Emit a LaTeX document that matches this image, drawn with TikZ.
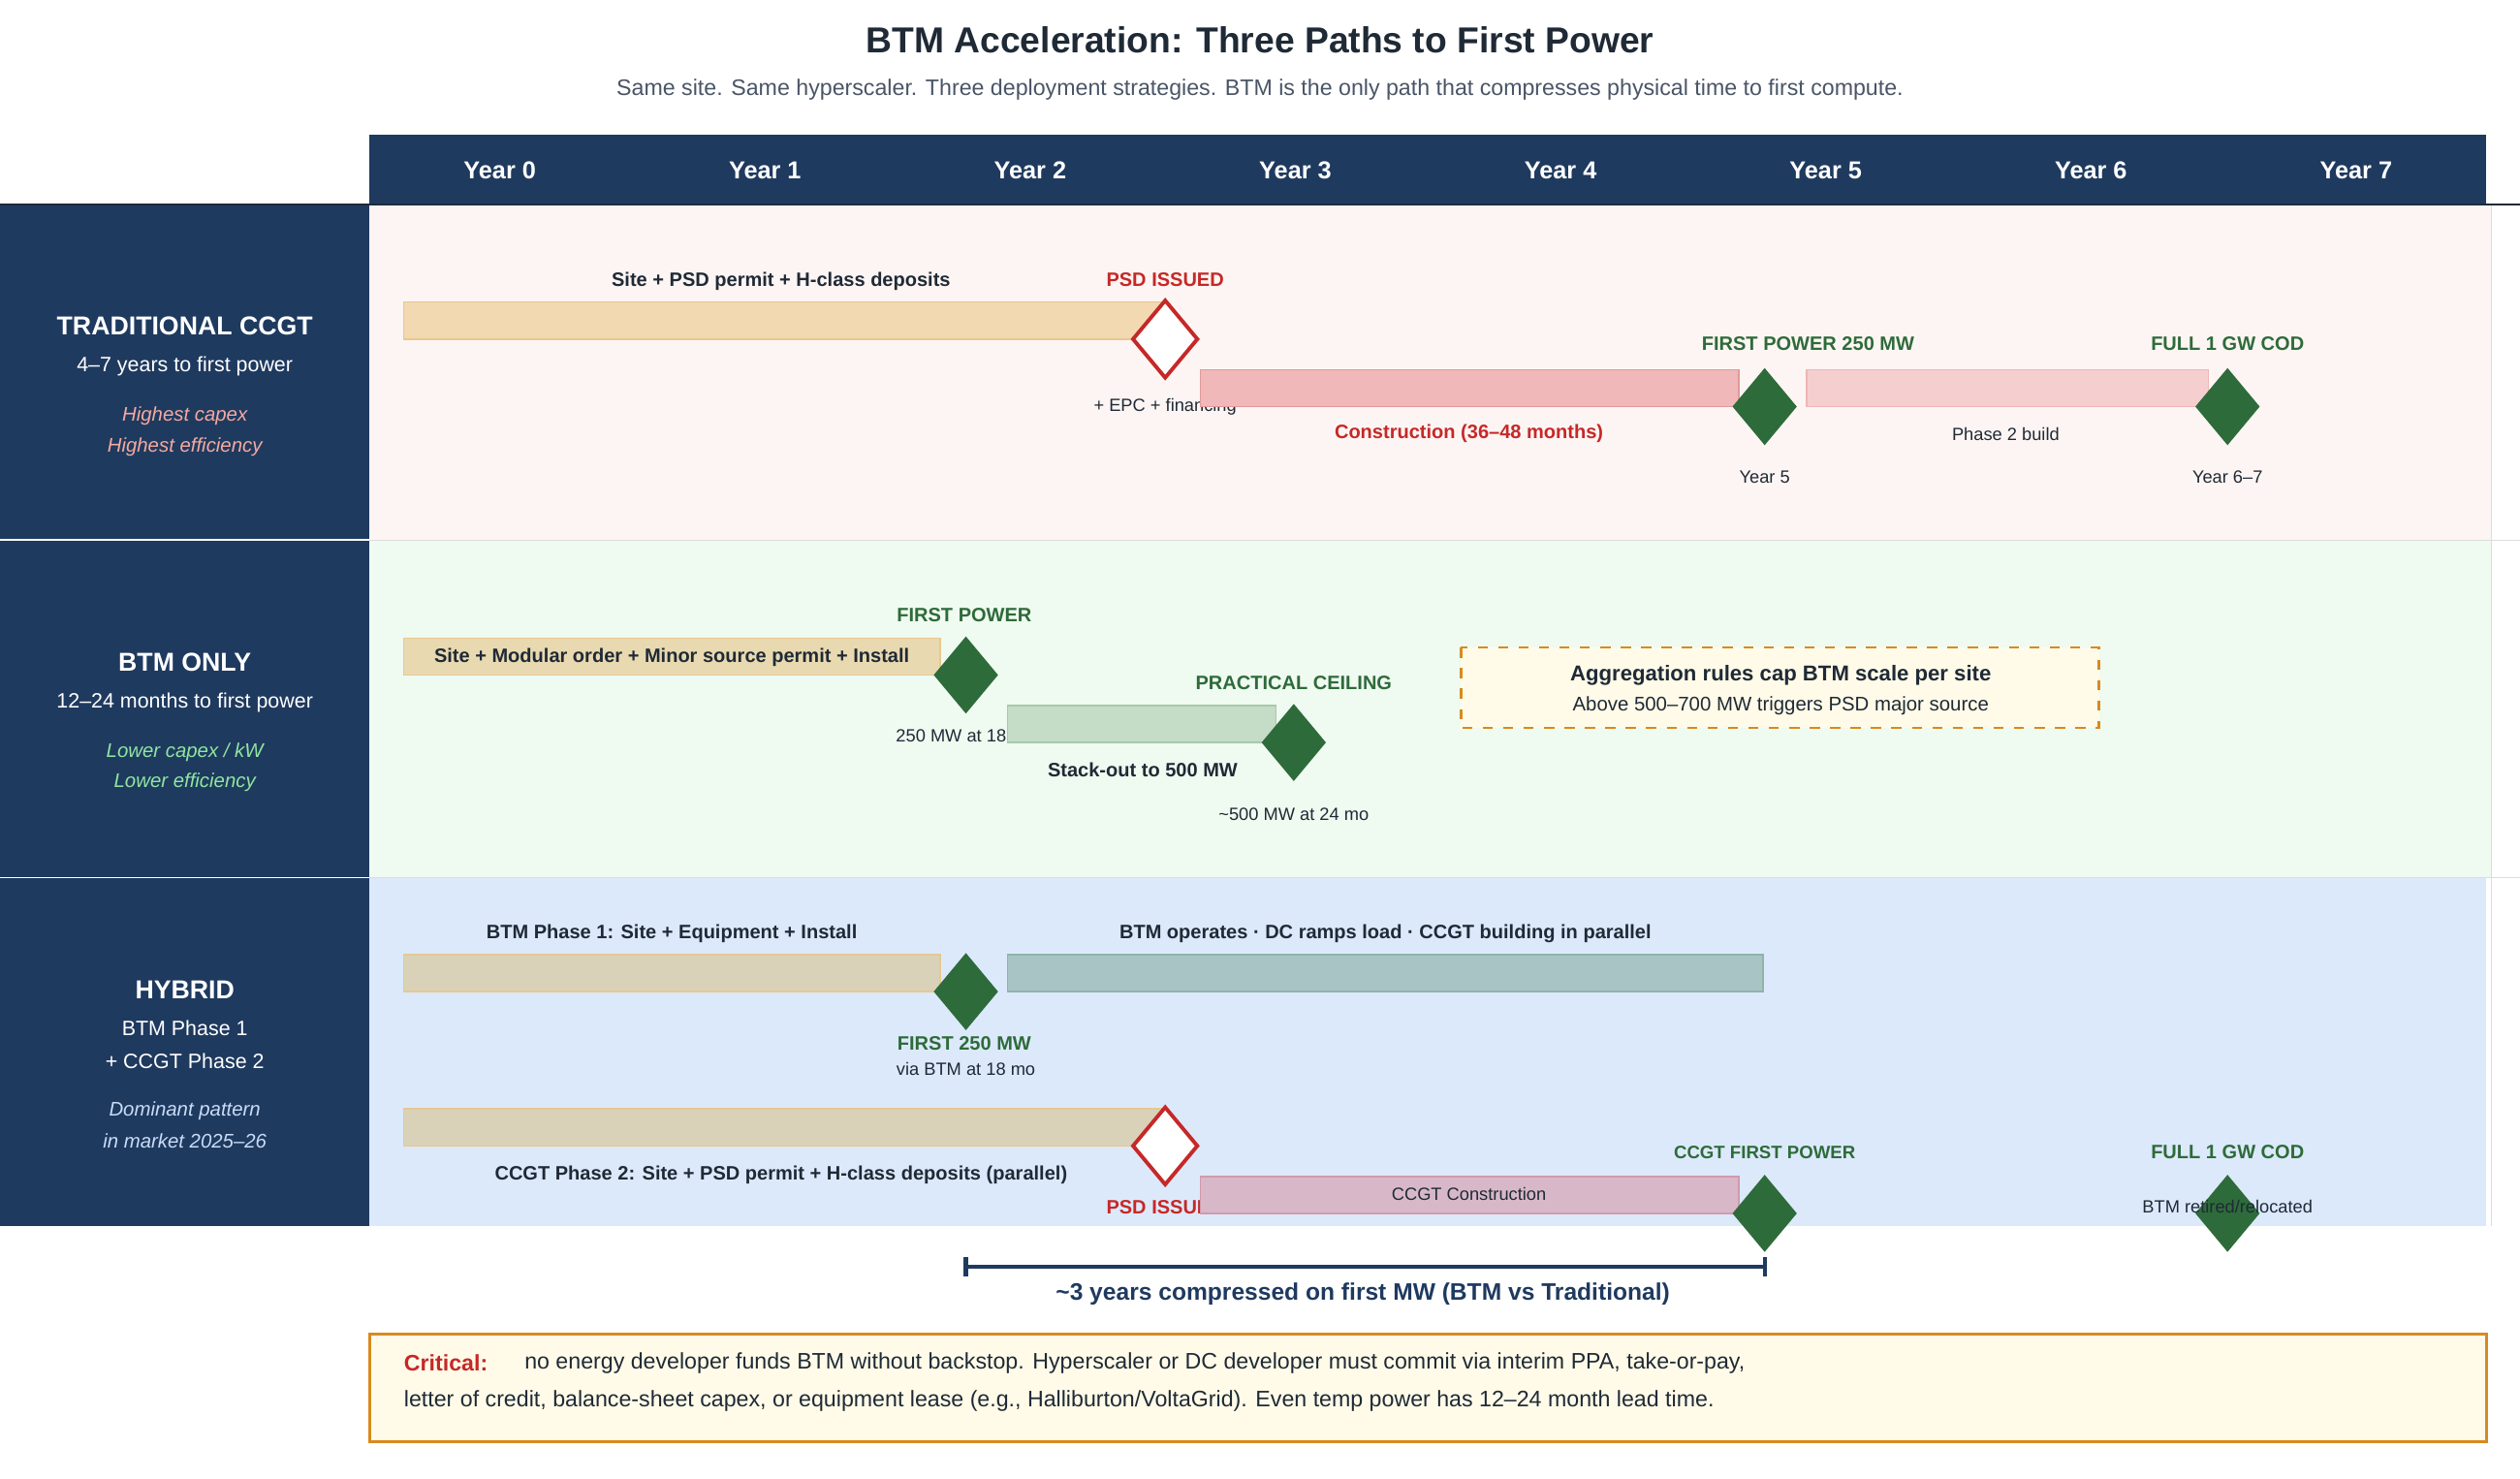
\documentclass[tikz,border=0pt]{standalone}
\usepackage{fontspec}
\setmainfont{Liberation Sans}
\usetikzlibrary{positioning}

\definecolor{navy}{HTML}{1F3A5F}
\definecolor{ink}{HTML}{1F2A36}
\definecolor{grey}{HTML}{4A5566}
\definecolor{redt}{HTML}{C62828}
\definecolor{greent}{HTML}{2E6B3A}
\definecolor{gem}{HTML}{2E6B3A}
\definecolor{orangeb}{HTML}{D88A1E}
\definecolor{cream}{HTML}{FFFBE8}
\definecolor{rowpink}{HTML}{FDF5F3}
\definecolor{rowgreen}{HTML}{EFFAF0}
\definecolor{rowblue}{HTML}{DCE9FB}
\definecolor{sep}{HTML}{DDDDDD}
\definecolor{itpink}{HTML}{F4A9A0}
\definecolor{itgreen}{HTML}{8EE6A0}
\definecolor{itblue}{HTML}{C8DCF8}
\definecolor{tan}{HTML}{F2D9B2}
\definecolor{tanline}{HTML}{E8C890}
\definecolor{tanb}{HTML}{E9D9B0}
\definecolor{tanc}{HTML}{D9D2B8}
\definecolor{redbar}{HTML}{F0B8B8}
\definecolor{redbarline}{HTML}{E09A9A}
\definecolor{pinkbar}{HTML}{F5CFCF}
\definecolor{pinkbarline}{HTML}{EDB5B5}
\definecolor{sage}{HTML}{C5DCC7}
\definecolor{sageline}{HTML}{A8C8AC}
\definecolor{teal}{HTML}{A8C4C4}
\definecolor{tealline}{HTML}{8FB5A8}
\definecolor{mauve}{HTML}{D8B8C8}
\definecolor{mauveline}{HTML}{D09AAA}

\tikzset{
  lbl/.style={font=\fontsize{5.7pt}{6.5pt}\selectfont\bfseries, text=ink, inner sep=0pt},
  sm/.style={font=\fontsize{5.2pt}{6pt}\selectfont, text=ink, inner sep=0pt},
  redlbl/.style={lbl, text=redt},
  grnlbl/.style={lbl, text=greent},
  side/.style={font=\fontsize{6.1pt}{7pt}\selectfont, text=white, inner sep=0pt},
  sidehead/.style={font=\fontsize{7.6pt}{9pt}\selectfont\bfseries, text=white, inner sep=0pt},
  sideit/.style={font=\fontsize{5.8pt}{7pt}\selectfont\itshape, inner sep=0pt},
  yr/.style={font=\fontsize{7.2pt}{8pt}\selectfont\bfseries, text=white, inner sep=0pt},
  bar/.style={line width=0.4pt},
  gemfill/.style={fill=gem, draw=none},
  gemopen/.style={fill=white, draw=redt, line width=1.1pt}
}
% milestone diamond at (x,y)
\newcommand{\gem}[3]{\path[#3] (#1-20,#2) -- (#1,#2-24) -- (#1+20,#2) -- (#1,#2+24) -- cycle;}

\begin{document}
\begin{tikzpicture}[x=0.016582cm, y=-0.016582cm]
\useasboundingbox (0,0) rectangle (1568,920);
\fill[white] (0,0) rectangle (1568,920);

% title
\node[font=\fontsize{10.6pt}{12pt}\selectfont\bfseries, text=ink] (title) at (784,25) {BTM Acceleration: Three Paths to First Power};
\node[font=\fontsize{6.6pt}{8pt}\selectfont, text=grey] (sub) at (784,56) {Same site. Same hyperscaler. Three deployment strategies. BTM is the only path that compresses physical time to first compute.};

% header
\fill[navy] (230,84) rectangle (1547,127);
\foreach \i in {0,...,7}
  \node[yr] (y\i) at (311+165*\i,106) {Year \i};
\draw[ink, line width=0.6pt] (0,127) -- (1568,127);

% row backgrounds
\fill[rowpink] (230,128) rectangle (1550,336);
\fill[rowgreen] (230,336) rectangle (1550,546);
\fill[rowblue] (230,546) rectangle (1547,763);
\draw[sep, line width=0.3pt] (230,336) -- (1568,336) (230,546) -- (1568,546) (1550,128) -- (1550,763);
\fill[navy] (0,128) rectangle (230,763);
\draw[white, line width=0.4pt] (0,336) -- (230,336) (0,546) -- (230,546);

% side labels
\node[sidehead] (s1) at (115,203) {TRADITIONAL CCGT};
\node[side] at (115,228) {4–7 years to first power};
\node[sideit, text=itpink] at (115,259) {Highest capex};
\node[sideit, text=itpink] at (115,278) {Highest efficiency};
\node[sidehead] (s2) at (115,412) {BTM ONLY};
\node[side] at (115,437) {12–24 months to first power};
\node[sideit, text=itgreen] at (115,468) {Lower capex / kW};
\node[sideit, text=itgreen] at (115,487) {Lower efficiency};
\node[sidehead] (s3) at (115,616) {HYBRID};
\node[side] at (115,640) {BTM Phase 1};
\node[side] at (115,660) {+ CCGT Phase 2};
\node[sideit, text=itblue] at (115,691) {Dominant pattern};
\node[sideit, text=itblue] at (115,710) {in market 2025–26};

% row 1: traditional
\filldraw[bar, fill=tan, draw=tanline] (251,188) rectangle (725,211);
\node[lbl] at (486,175) {Site + PSD permit + H-class deposits};
\gem{725}{211}{gemopen}
\node[redlbl] at (725,174) {PSD ISSUED};
\node[sm] at (725,253) {+ EPC + financing};
\filldraw[bar, fill=redbar, draw=redbarline] (747,230) rectangle (1082,253);
\node[redlbl] at (914,270) {Construction (36–48 months)};
\gem{1098}{253}{gemfill}
\node[grnlbl] at (1125,214) {FIRST POWER 250 MW};
\node[sm] at (1098,297) {Year 5};
\filldraw[bar, fill=pinkbar, draw=pinkbarline] (1124,230) rectangle (1374,253);
\node[sm] at (1248,270) {Phase 2 build};
\gem{1386}{253}{gemfill}
\node[grnlbl] at (1386,214) {FULL 1 GW COD};
\node[sm] at (1386,297) {Year 6–7};

% row 2: btm only
\filldraw[bar, fill=tanb, draw=tanline] (251,397) rectangle (585,420);
\node[lbl] at (418,409) {Site + Modular order + Minor source permit + Install};
\gem{601}{420}{gemfill}
\node[grnlbl] at (600,383) {FIRST POWER};
\node[sm] at (601,458) {250 MW at 18 mo};
\filldraw[bar, fill=sage, draw=sageline] (627,439) rectangle (794,462);
\node[lbl] at (711,479) {Stack-out to 500 MW};
\gem{805}{462}{gemfill}
\node[grnlbl] at (805,425) {PRACTICAL CEILING};
\node[sm] at (805,507) {\textasciitilde500 MW at 24 mo};
\filldraw[fill=cream, draw=orangeb, dashed, line width=0.7pt] (909,403) rectangle (1306,453);
\node[lbl, font=\fontsize{6.3pt}{7pt}\selectfont\bfseries] (agg) at (1108,420) {Aggregation rules cap BTM scale per site};
\node[sm, font=\fontsize{5.8pt}{7pt}\selectfont] at (1108,439) {Above 500–700 MW triggers PSD major source};

% row 3: hybrid
\node[lbl] at (418,581) {BTM Phase 1: Site + Equipment + Install};
\filldraw[bar, fill=tanc, draw=tanline] (251,594) rectangle (585,617);
\gem{601}{617}{gemfill}
\node[grnlbl] at (600,649) {FIRST 250 MW};
\node[sm] at (601,665) {via BTM at 18 mo};
\filldraw[bar, fill=teal, draw=tealline] (627,594) rectangle (1097,617);
\node[lbl] at (862,581) {BTM operates · DC ramps load · CCGT building in parallel};
\filldraw[bar, fill=tanc, draw=tanline] (251,690) rectangle (725,713);
\gem{725}{713}{gemopen}
\node[lbl] at (486,731) {CCGT Phase 2: Site + PSD permit + H-class deposits (parallel)};
\node[redlbl] at (725,751) {PSD ISSUED};
\filldraw[bar, fill=mauve, draw=mauveline] (747,732) rectangle (1082,755);
\node[sm] at (914,743) {CCGT Construction};
\gem{1098}{755}{gemfill}
\node[grnlbl, font=\fontsize{5.3pt}{6pt}\selectfont\bfseries] at (1098,717) {CCGT FIRST POWER};
\gem{1386}{755}{gemfill}
\node[grnlbl] at (1386,717) {FULL 1 GW COD};
\node[sm] at (1386,751) {BTM retired/relocated};

% compression bracket
\coordinate (ba) at (601,788);
\coordinate (bb) at (1098,788);
\draw[navy, line width=1.2pt] (ba) -- (bb);
\draw[navy, line width=1.2pt] (601,782) -- (601,794) (1098,782) -- (1098,794);
\node[font=\fontsize{7pt}{8pt}\selectfont\bfseries, text=navy] at (848,805) {\textasciitilde3 years compressed on first MW (BTM vs Traditional)};

% critical note
\filldraw[fill=cream, draw=orangeb, line width=0.9pt] (230,830) rectangle (1547,897);
\node[font=\fontsize{6.6pt}{8pt}\selectfont\bfseries, text=redt, anchor=west, inner sep=0pt] (crit) at (251,848) {Critical:};
\node[font=\fontsize{6.6pt}{8pt}\selectfont, text=ink, anchor=west, inner sep=0pt] at (326,848) {no energy developer funds BTM without backstop. Hyperscaler or DC developer must commit via interim PPA, take-or-pay,};
\node[font=\fontsize{6.6pt}{8pt}\selectfont, text=ink, anchor=west, inner sep=0pt] at (251,872) {letter of credit, balance-sheet capex, or equipment lease (e.g., Halliburton/VoltaGrid). Even temp power has 12–24 month lead time.};
\end{tikzpicture}
\end{document}
